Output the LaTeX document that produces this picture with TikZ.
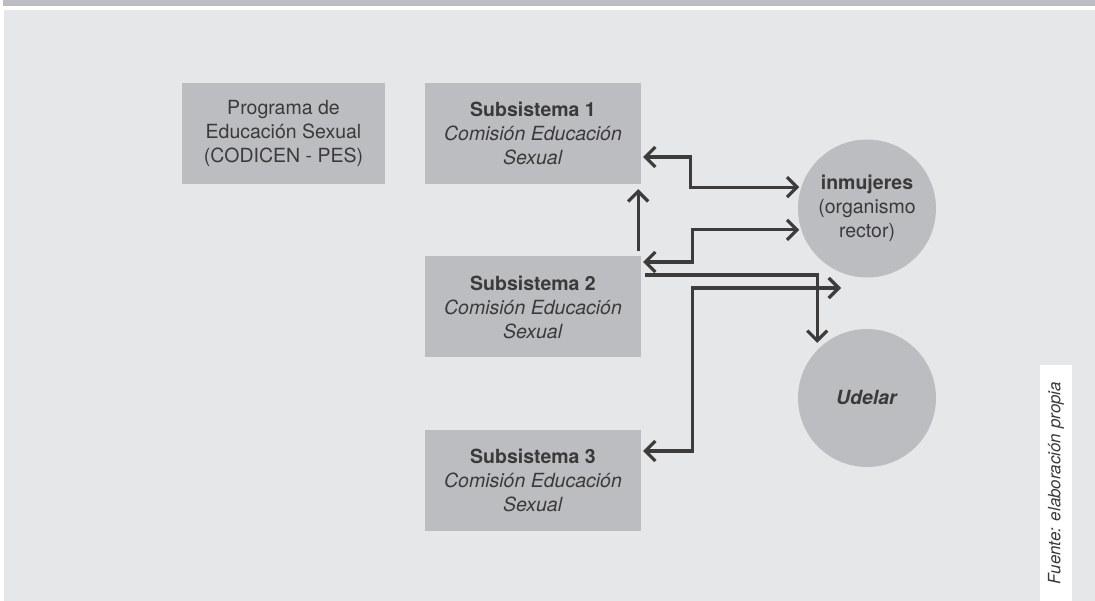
\documentclass[tikz,border=0pt]{standalone}
\usepackage{fontspec}
\setmainfont{TeX Gyre Heros}
\usetikzlibrary{arrows.meta}
\definecolor{fondo}{HTML}{E6E7E8}
\definecolor{caja}{HTML}{BCBDC0}
\definecolor{linea}{HTML}{3C3C3C}
\definecolor{texto}{HTML}{3A3A3A}
\tikzset{
  box/.style={fill=caja,minimum width=216pt,minimum height=101pt,inner sep=0pt,
    align=center,text=texto,font=\fontsize{19.5}{24}\selectfont},
  org/.style={circle,fill=caja,minimum size=138pt,inner sep=0pt,
    align=center,text=texto,font=\fontsize{19.5}{24}\selectfont},
  link/.style={draw=linea,line width=3.2pt,
    arrows={Straight Barb[length=10pt,width=20pt,line width=3.2pt]-Straight Barb[length=10pt,width=20pt,line width=3.2pt]}},
  onelink/.style={draw=linea,line width=3.2pt,
    -{Straight Barb[length=10pt,width=20pt,line width=3.2pt]}}
}
\begin{document}
\begin{tikzpicture}[x=1pt,y=-1pt]
\useasboundingbox (0,0) rectangle (1095,601);
\fill[white] (0,0) rectangle (1095,601);
\fill[caja] (3,0) rectangle (1095,6);
\fill[fondo] (4,10) rectangle (1095,601);
\fill[white] (1040,365) rectangle (1072,601);

\node[box,minimum width=203pt] (pes) at (283.5,133.5)
  {Programa de\\Educación Sexual\\(CODICEN - PES)};
\node[box] (sub1) at (533,133.5)
  {\textbf{Subsistema 1}\\\textit{Comisión Educación}\\\textit{Sexual}};
\node[box] (sub2) at (533,307)
  {\textbf{Subsistema 2}\\\textit{Comisión Educación}\\\textit{Sexual}};
\node[box] (sub3) at (533,480.5)
  {\textbf{Subsistema 3}\\\textit{Comisión Educación}\\\textit{Sexual}};
\node[org] (inm) at (867,208.5)
  {\textbf{inmujeres}\\(organismo\\rector)};
\node[org] (ude) at (867,398) {\textbf{\textit{Udelar}}};
\node[rotate=90,text=texto,font=\fontsize{17}{20}\selectfont\itshape] (fuente)
  at (1056,483) {Fuente: elaboración propia};

\coordinate (loose) at (841,288);

\draw[link] ([shift={(2,23.5)}]sub1.east) -- ++(47,0) |- ([xshift=-2pt]inm.162);
\draw[onelink] ([shift={(-3,-5)}]sub2.north east) -- ([shift={(-3,5)}]sub1.south east);
\draw[link] ([shift={(2,-45)}]sub2.east) -- ++(49,0) |- ([xshift=-2pt]inm.198);
\draw[onelink,shorten >=7pt] ([shift={(4,-32)}]sub2.east) -| (ude.136);
\draw[link] ([shift={(2,-29.5)}]sub3.east) -- ++(49,0) |- (loose);
\end{tikzpicture}
\end{document}
